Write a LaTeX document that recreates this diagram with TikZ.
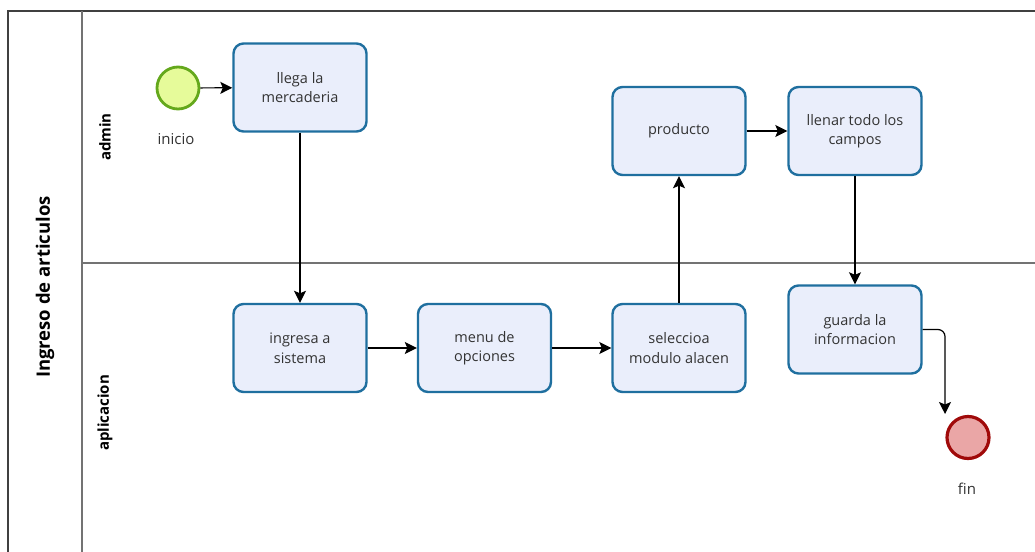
\documentclass[tikz,border=0pt]{standalone}
\usepackage{fontspec}
\setmainfont{Open Sans}
\usetikzlibrary{arrows.meta}
\definecolor{taskfill}{HTML}{EAEEFB}
\definecolor{taskdraw}{HTML}{1F6F9F}
\definecolor{startfill}{HTML}{E6FB9A}
\definecolor{startdraw}{HTML}{64A81C}
\definecolor{endfill}{HTML}{EAA6A6}
\definecolor{enddraw}{HTML}{A00A0A}
\definecolor{txt}{HTML}{333333}
\tikzset{
  task/.style={draw=taskdraw, fill=taskfill, line width=2.4pt, rounded corners=10pt,
    minimum width=133pt, minimum height=88pt, align=center, text=txt,
    font=\fontsize{14.5}{19.5}\selectfont},
  startev/.style={circle, draw=startdraw, fill=startfill, line width=2.8pt, minimum size=42pt, inner sep=0pt},
  endev/.style={circle, draw=enddraw, fill=endfill, line width=3.2pt, minimum size=42pt, inner sep=0pt},
  evlabel/.style={text=txt, font=\fontsize{15}{18}\selectfont},
  flow/.style={draw=black, line width=1.2pt, -{Stealth[length=12pt,width=12pt,inset=2.5pt]}},
  lanelabel/.style={rotate=90, font=\bfseries\fontsize{15}{18}\selectfont, text=black},
  poollabel/.style={rotate=90, font=\bfseries\fontsize{18.5}{22}\selectfont, text=black}
}
\begin{document}
\begin{tikzpicture}[x=1pt,y=-1pt]
\useasboundingbox (0,0) rectangle (1035,551);
\fill[white] (0,0) rectangle (1035,551);
\begin{scope}
\clip (0,0) rectangle (1035,551);
\draw[black!75, line width=1.4pt] (8,11) rectangle (1060,563);
\draw[black!55, line width=1.2pt] (82,11) -- (82,563);
\draw[black!55, line width=1.2pt] (82,263) -- (1060,263);
\end{scope}
\node[poollabel] (pool) at (45,287) {Ingreso de articulos};
\node[lanelabel] (admin) at (105,137) {admin};
\node[lanelabel] (apl) at (105,413) {aplicacion};

\node[startev] (start) at (178,88) {};
\node[evlabel] (startlbl) at (176,139) {inicio};
\node[task] (t1) at (300,87.5) {llega la\\mercaderia};
\node[task] (t2) at (300,348) {ingresa a\\sistema};
\node[task] (t3) at (484.5,348) {menu de\\opciones};
\node[task] (t4) at (679,348) {seleccioa\\modulo alacen};
\node[task] (t5) at (679,131) {producto};
\node[task] (t6) at (855,131) {llenar todo los\\campos};
\node[task] (t7) at (855,329.5) {guarda la\\informacion};
\node[endev] (end) at (968,437.5) {};
\node[evlabel] (endlbl) at (967,489) {fin};
\coordinate (endin) at (945,414);

\draw[flow] (start) -- (t1);
\draw[flow] (t1) -- (t2);
\draw[flow] (t2) -- (t3);
\draw[flow] (t3) -- (t4);
\draw[flow] (t4) -- (t5);
\draw[flow] (t5) -- (t6);
\draw[flow] (t6) -- (t7);
\draw[flow, rounded corners=7pt] (t7.east) -| (endin);
\end{tikzpicture}
\end{document}
